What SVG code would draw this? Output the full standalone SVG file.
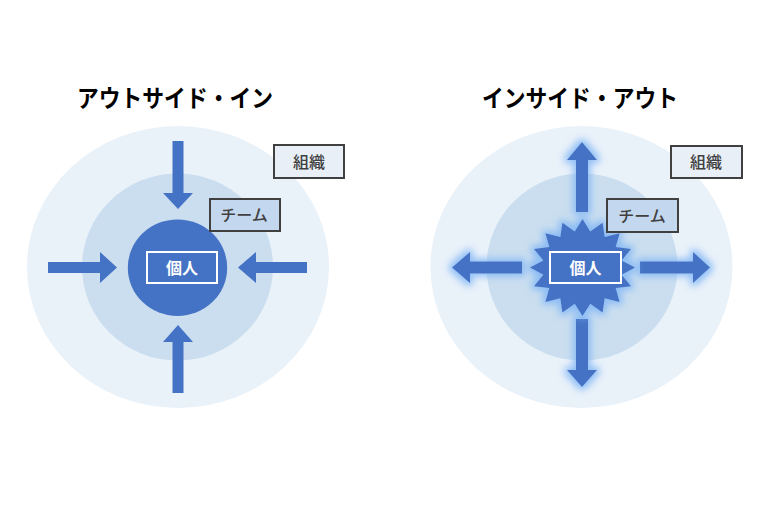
<svg xmlns="http://www.w3.org/2000/svg" width="768" height="512" viewBox="0 0 768 512">
  <defs>
    <style>
      .title { font-family: "Noto Sans CJK JP", "Noto Sans", sans-serif; font-size: 24px; font-weight: bold; fill: #000; text-anchor: middle; }
      .lbl { font-family: "Noto Sans CJK JP", "Noto Sans", sans-serif; font-size: 16px; font-weight: 500; fill: #404040; text-anchor: middle; }
      .lblw { font-family: "Noto Sans CJK JP", "Noto Sans", sans-serif; font-size: 16px; font-weight: bold; fill: #ffffff; text-anchor: middle; }
      .outer { fill: #e9f1f9; }
      .inner { fill: #cadeef; }
      .core { fill: #4472c4; }
      .orgbox { fill: #e8eff7; stroke: #404040; stroke-width: 2; }
      .teambox { fill: #c3d8ee; stroke: #404040; stroke-width: 2; }
      .indbox { fill: #4472c4; stroke: #ffffff; stroke-width: 2; }
      .arrow { fill: #4472c4; }
    </style>
    <filter id="glow" x="-50%" y="-50%" width="200%" height="200%">
      <feMorphology in="SourceAlpha" operator="dilate" radius="2.5" result="d"/>
      <feGaussianBlur in="d" stdDeviation="3.5" result="b"/>
      <feFlood flood-color="#7db4f6" flood-opacity="0.8"/>
      <feComposite in2="b" operator="in" result="g"/>
      <feMerge>
        <feMergeNode in="g"/>
        <feMergeNode in="SourceGraphic"/>
      </feMerge>
    </filter>
  </defs>

  <rect width="768" height="512" fill="#ffffff"/>

  <!-- Left: Outside-In -->
  <g id="title-left">
    <text class="title" x="175" y="107" textLength="196" lengthAdjust="spacingAndGlyphs">アウトサイド・イン</text>
  </g>
  <g id="org-left">
    <ellipse class="outer" cx="178" cy="267" rx="151" ry="141"/>
  </g>
  <g id="team-left">
    <ellipse class="inner" cx="177.5" cy="267" rx="95.5" ry="93.5"/>
  </g>
  <g id="individual-left">
    <ellipse class="core" cx="177.5" cy="267.7" rx="49.7" ry="48.3"/>
    <rect class="indbox" x="147" y="252" width="70" height="31"/>
    <text class="lblw" x="182" y="273.5">個人</text>
  </g>
  <g id="org-label-left">
    <rect class="orgbox" x="274" y="145" width="70" height="33"/>
    <text class="lbl" x="309" y="167.5">組織</text>
  </g>
  <g id="team-label-left">
    <rect class="teambox" x="210" y="199" width="70" height="32"/>
    <text class="lbl" x="244" y="221">チーム</text>
  </g>
  <g id="connectors-left">
    <path class="arrow" d="M172.5,141 H183.5 V193 H193 L178,209 L163,193 H172.5 Z"/>
    <path class="arrow" d="M48,262 H100 V252 L117,267.5 L100,283 V273 H48 Z"/>
    <path class="arrow" d="M307,262 H256 V252 L238,267.5 L256,283 V273 H307 Z"/>
    <path class="arrow" d="M172.5,393 V342 H163 L178,325 L193,342 H183.5 V393 Z"/>
  </g>

  <!-- Right: Inside-Out -->
  <g id="title-right">
    <text class="title" x="580" y="107" textLength="196" lengthAdjust="spacingAndGlyphs">インサイド・アウト</text>
  </g>
  <g id="org-right">
    <ellipse class="outer" cx="581.5" cy="267" rx="151" ry="141"/>
  </g>
  <g id="team-right">
    <ellipse class="inner" cx="582" cy="267" rx="95.5" ry="93.5"/>
  </g>
  <g id="connectors-right" filter="url(#glow)">
    <path class="arrow" d="M576,212 V160 H567 L582,142 L597,160 H588 V212 Z"/>
    <path class="arrow" d="M522,261.5 H470 V252 L452,267.5 L470,283 V273.5 H522 Z"/>
    <path class="arrow" d="M640,261.5 H693 V252 L710,267.5 L693,283 V273.5 H640 Z"/>
    <path class="arrow" d="M576,319 V370 H567 L582,387 L597,370 H588 V319 Z"/>
  </g>
  <g id="individual-right">
    <g filter="url(#glow)">
      <polygon class="core" transform="translate(582.5,267.6) scale(1.05,0.97)" points="0,-50 7.41,-37.27 19.13,-46.19 21.11,-31.6 35.36,-35.36 31.6,-21.11 46.19,-19.13 37.27,-7.41 50,0 37.27,7.41 46.19,19.13 31.6,21.11 35.36,35.36 21.11,31.6 19.13,46.19 7.41,37.27 0,50 -7.41,37.27 -19.13,46.19 -21.11,31.6 -35.36,35.36 -31.6,21.11 -46.19,19.13 -37.27,7.41 -50,0 -37.27,-7.41 -46.19,-19.13 -31.6,-21.11 -35.36,-35.36 -21.11,-31.6 -19.13,-46.19 -7.41,-37.27"/>
    </g>
    <rect class="indbox" x="550" y="252" width="71" height="31"/>
    <text class="lblw" x="585.5" y="273.5">個人</text>
  </g>
  <g id="org-label-right">
    <rect class="orgbox" x="671" y="146" width="71" height="32"/>
    <text class="lbl" x="706" y="168">組織</text>
  </g>
  <g id="team-label-right">
    <rect class="teambox" x="607" y="199" width="71" height="33"/>
    <text class="lbl" x="642" y="221.5">チーム</text>
  </g>
</svg>
